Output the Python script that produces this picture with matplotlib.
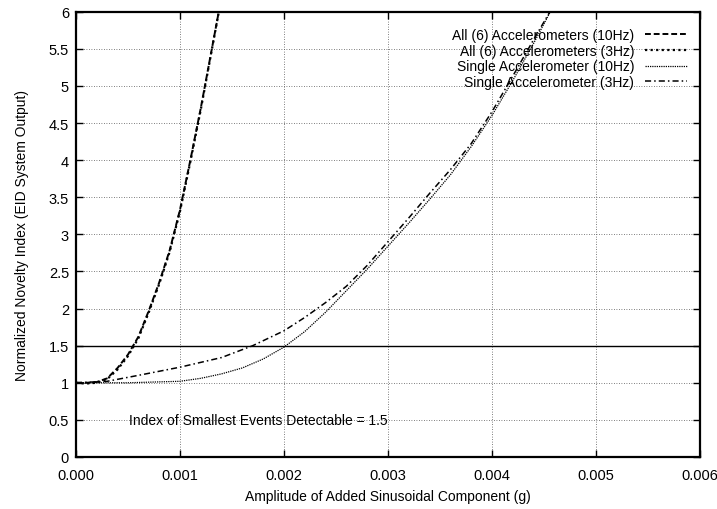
import matplotlib
matplotlib.use("Agg")
import matplotlib.pyplot as plt
from matplotlib.ticker import FuncFormatter, MultipleLocator

plt.rcParams['font.family'] = ['Liberation Sans', 'DejaVu Sans']

# Data (amplitude in g, normalized novelty index)
all10_x = [0.0, 0.0001, 0.0002, 0.0003, 0.0004, 0.0005, 0.0006, 0.0007, 0.0008, 0.0009, 0.0010, 0.0011, 0.0012, 0.0013, 0.0014]
all10_y = [1.0, 1.0, 1.01, 1.06, 1.2, 1.38, 1.62, 1.97, 2.35, 2.78, 3.33, 4.0, 4.7, 5.45, 6.2]

all3_x = [0.0, 0.0001, 0.0002, 0.0003, 0.0004, 0.0005, 0.0006, 0.0007, 0.0008, 0.0009, 0.0010, 0.0011, 0.0012, 0.0013, 0.0014]
all3_y = [1.0, 0.99, 1.0, 1.05, 1.18, 1.36, 1.6, 1.95, 2.33, 2.76, 3.31, 3.98, 4.68, 5.44, 6.2]

single10_x = [0.0, 0.0005, 0.0010, 0.0012, 0.0014, 0.0016, 0.0018, 0.0020, 0.0022, 0.0024, 0.0026, 0.0028, 0.0030, 0.0032, 0.0034, 0.0036, 0.0038, 0.0040, 0.0042, 0.0044, 0.0046]
single10_y = [1.0, 1.0, 1.02, 1.06, 1.12, 1.2, 1.32, 1.48, 1.69, 1.95, 2.24, 2.53, 2.84, 3.15, 3.47, 3.8, 4.18, 4.6, 5.07, 5.57, 6.1]

single3_x = [0.0, 0.0003, 0.0006, 0.0010, 0.0014, 0.0017, 0.0020, 0.0022, 0.0024, 0.0026, 0.0028, 0.0030, 0.0032, 0.0034, 0.0036, 0.0038, 0.0040, 0.0042, 0.0044, 0.0046]
single3_y = [1.0, 1.02, 1.1, 1.21, 1.34, 1.5, 1.7, 1.88, 2.08, 2.3, 2.58, 2.9, 3.22, 3.55, 3.87, 4.22, 4.65, 5.13, 5.62, 6.1]

threshold = 1.5
labels = ["All (6) Accelerometers (10Hz)", "All (6) Accelerometers (3Hz)",
          "Single Accelerometer (10Hz)", "Single Accelerometer (3Hz)"]

fig = plt.figure(figsize=(7.17, 5.10), dpi=100)
ax = fig.add_axes([0.106, 0.102, 0.870, 0.873])

ax.plot(all10_x, all10_y, color='black', lw=1.4, linestyle=(0, (3, 1.5)), label=labels[0])
ax.plot(all3_x, all3_y, color='black', lw=1.6, linestyle=(0, (1, 1.5)), label=labels[1])
ax.plot(single10_x, single10_y, color='black', lw=0.9, linestyle=(0, (1, 0.8)), label=labels[2])
ax.plot(single3_x, single3_y, color='black', lw=1.1, linestyle=(0, (4, 2, 1, 2)), label=labels[3])

ax.axhline(threshold, color='black', lw=1.0)
ax.text(0.00051, 0.5, "Index of Smallest Events Detectable = %g" % threshold,
        fontsize=10, va='center', ha='left')

ax.set_xlim(0, 0.006)
ax.set_ylim(0, 6)
ax.xaxis.set_major_locator(MultipleLocator(0.001))
ax.yaxis.set_major_locator(MultipleLocator(0.5))
ax.xaxis.set_major_formatter(FuncFormatter(lambda v, p: "%.3f" % v))
ax.yaxis.set_major_formatter(FuncFormatter(lambda v, p: "%g" % v))
ax.tick_params(direction='in', top=True, right=True, length=5, width=1.0,
               labelsize=10.5, pad=5, colors='black')
ax.tick_params(axis='x', pad=8)
ax.grid(True, color='#555555', linestyle=(0, (1, 2)), linewidth=0.6)
for s in ax.spines.values():
    s.set_linewidth(1.6)

ax.set_xlabel("Amplitude of Added Sinusoidal Component (g)", fontsize=10, labelpad=5)
ax.set_ylabel("Normalized Novelty Index (EID System Output)", fontsize=10, labelpad=14)

leg = ax.legend(loc='upper right', markerfirst=False, frameon=False, fontsize=10,
                handlelength=3.0, handletextpad=0.8, labelspacing=0.12,
                borderaxespad=0.3, bbox_to_anchor=(0.995, 0.985))

fig.savefig("out.png", dpi=100)
